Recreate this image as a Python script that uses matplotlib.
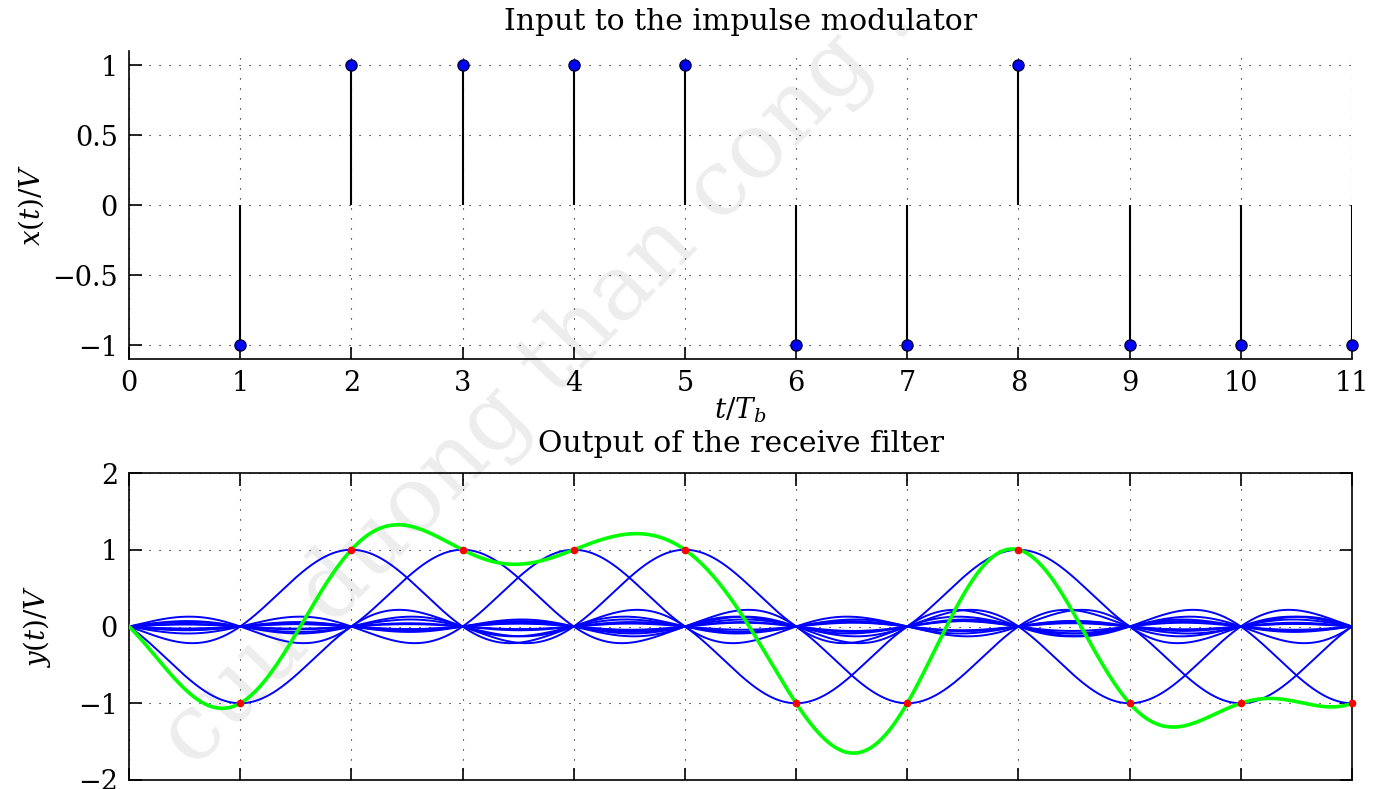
import numpy as np
import matplotlib
matplotlib.use('Agg')
import matplotlib.pyplot as plt

# ---- data ----
symbol_times = [1, 2, 3, 4, 5, 6, 7, 8, 9, 10, 11]
symbols = [-1, 1, 1, 1, 1, -1, -1, 1, -1, -1, -1]
# symbols just past the plotted window (their pulses still reach into it)
extra_times = [12, 13]
extra_symbols = [1, 1]
x_ticks = list(range(0, 12))
top_yticks = [-1, -0.5, 0, 0.5, 1]
top_yticklabels = ['\u22121', '\u22120.5', '0', '0.5', '1']
bottom_yticks = [-2, -1, 0, 1, 2]
bottom_yticklabels = ['\u22122', '\u22121', '0', '1', '2']
title_top = 'Input to the impulse modulator'
title_bottom = 'Output of the receive filter'
watermark = 'cuu duong than cong . com'

plt.rcParams['font.family'] = ['DejaVu Serif']
plt.rcParams['mathtext.fontset'] = 'dejavuserif'

W, H = 1375, 789
fig = plt.figure(figsize=(W / 100, H / 100), dpi=100)


def rect(l, t, r, b):
    return [l / W, 1 - b / H, (r - l) / W, (b - t) / H]


# watermark (behind everything)
fig.text(195 / W, 1 - 770 / H, watermark, rotation=46,
         rotation_mode='anchor', ha='left', va='baseline', fontsize=66,
         color='#ededed', zorder=-5, family='DejaVu Serif')

grid_kw = dict(color='k', linestyle=(0, (1, 8)), linewidth=0.8)
tick_fs = 19.5
label_fs = 20
title_fs = 21.5

# ---- top: stem plot ----
ax1 = fig.add_axes(rect(129, 51, 1352, 359))
ax1.patch.set_alpha(0)
ax1.vlines(symbol_times, 0, symbols, color='k', lw=1.5, zorder=3)
ax1.plot(symbol_times, symbols, 'o', ms=8, mfc='#0000ff', mec='#000033',
         mew=1.0, zorder=4, clip_on=False)
ax1.set_xlim(0, 11)
ax1.set_ylim(-1.1, 1.1)
ax1.set_xticks(x_ticks)
ax1.set_yticks(top_yticks)
ax1.set_yticklabels(top_yticklabels)
ax1.grid(True, **grid_kw)
ax1.spines['top'].set_visible(False)
ax1.spines['right'].set_visible(False)
for s in ['left', 'bottom']:
    ax1.spines[s].set_linewidth(1.2)
ax1.tick_params(direction='in', length=9, width=1.2, labelsize=tick_fs, pad=8)
ax1.set_title(title_top, fontsize=title_fs, pad=15)
ax1.set_ylabel(r'$x(t)/V$', fontsize=label_fs)
ax1.yaxis.set_label_coords(-0.068, 0.5)
ax1.set_xlabel(r'$t/T_b$', fontsize=label_fs)
ax1.xaxis.set_label_coords(0.5, -0.118)

# ---- bottom: received pulses ----
ax2 = fig.add_axes(rect(129, 473, 1352, 780))
ax2.patch.set_alpha(0)
t = np.linspace(0, 11, 2201)
total = np.zeros_like(t)
for tk, a in zip(symbol_times + extra_times, symbols + extra_symbols):
    p = a * np.sinc(t - tk)
    total += p
    ax2.plot(t, p, color='#0000ff', lw=1.4, zorder=2)
ax2.plot(t, total, color='#00ff00', lw=2.6, zorder=3)
ax2.plot(symbol_times, symbols, 'o', ms=4.5, color='#ff0000', zorder=4,
         clip_on=False)
ax2.set_xlim(0, 11)
ax2.set_ylim(-2, 2)
ax2.set_xticks(x_ticks)
ax2.set_yticks(bottom_yticks)
ax2.set_yticklabels(bottom_yticklabels)
ax2.grid(True, **grid_kw)
for s in ax2.spines.values():
    s.set_linewidth(1.2)
ax2.tick_params(direction='in', length=9, width=1.2, labelsize=tick_fs, pad=8,
                top=True, right=True, labelbottom=False)
ax2.set_title(title_bottom, fontsize=title_fs, pad=15)
ax2.set_ylabel(r'$y(t)/V$', fontsize=label_fs)
ax2.yaxis.set_label_coords(-0.062, 0.5)

fig.savefig('out.png', dpi=100)
